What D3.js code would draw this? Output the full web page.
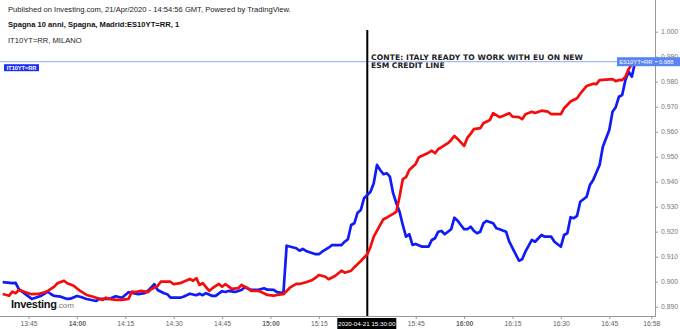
<!DOCTYPE html>
<html><head><meta charset="utf-8">
<script src="https://cdn.jsdelivr.net/npm/d3@7"></script>
<style>body{margin:0;background:#fff}svg{display:block;font-family:"Liberation Sans",Arial,sans-serif}</style>
</head><body><svg id="c" width="680" height="329"></svg>
<script>
// ---- data ----
const esTimes = ["13:37","13:40","13:41","13:42","13:46","13:49","13:51","13:52","13:53","13:55","13:57","13:58","14:00","14:01","14:03","14:06","14:07","14:10","14:12","14:14","14:16","14:19","14:21","14:22","14:24","14:25","14:27","14:28","14:29","14:32","14:33","14:35","14:37","14:38","14:39","14:40","14:42","14:43","14:45","14:46","14:47","14:49","14:51","14:52","14:54","14:56","14:58","14:59","15:01","15:02","15:04","15:05","15:08","15:09","15:10","15:11","15:14","15:15","15:16","15:18","15:19","15:22","15:23","15:24","15:25","15:26","15:27","15:28","15:29","15:30","15:31","15:32","15:33","15:34","15:35","15:36","15:37","15:38","15:39","15:40","15:41","15:42","15:43","15:44","15:45","15:47","15:49","15:50","15:51","15:52","15:53","15:54","15:56","15:57","15:58","16:00","16:01","16:02","16:03","16:04","16:05","16:06","16:07","16:09","16:10","16:11","16:13","16:14","16:17","16:18","16:19","16:21","16:22","16:24","16:25","16:27","16:28","16:30","16:31","16:32","16:33","16:34","16:35","16:36","16:38","16:39","16:40","16:42","16:43","16:45","16:46","16:47","16:48","16:49","16:50","16:51","16:52","16:53"];
const esValues = [0.8998,0.8994,0.8995,0.8970,0.8931,0.8944,0.8960,0.8950,0.8943,0.8940,0.8931,0.8932,0.8943,0.8940,0.8931,0.8923,0.8931,0.8931,0.8942,0.8936,0.8958,0.8950,0.8954,0.8963,0.8990,0.8967,0.8954,0.8950,0.8936,0.8936,0.8940,0.8952,0.8946,0.8952,0.8946,0.8954,0.8943,0.8943,0.8962,0.8959,0.8963,0.8959,0.8967,0.8978,0.8967,0.8967,0.8974,0.8968,0.8967,0.8958,0.8954,0.9144,0.9134,0.9124,0.9131,0.9123,0.9110,0.9110,0.9120,0.9136,0.9146,0.9146,0.9160,0.9170,0.9227,0.9234,0.9276,0.9287,0.9334,0.9347,0.9360,0.9394,0.9467,0.9447,0.9430,0.9434,0.9420,0.9354,0.9314,0.9280,0.9227,0.9180,0.9190,0.9147,0.9151,0.9140,0.9140,0.9167,0.9174,0.9200,0.9203,0.9190,0.9210,0.9256,0.9244,0.9210,0.9210,0.9220,0.9204,0.9194,0.9200,0.9234,0.9243,0.9234,0.9214,0.9210,0.9200,0.9160,0.9084,0.9090,0.9120,0.9167,0.9160,0.9187,0.9180,0.9180,0.9160,0.9140,0.9187,0.9194,0.9258,0.9254,0.9263,0.9320,0.9340,0.9387,0.9407,0.9467,0.9540,0.9607,0.9680,0.9698,0.9740,0.9747,0.9807,0.9840,0.9820,0.9880];
const itTimes = ["13:37","13:39","13:40","13:41","13:42","13:43","13:45","13:46","13:48","13:50","13:51","13:53","13:54","13:56","13:57","13:59","14:01","14:03","14:05","14:06","14:08","14:09","14:10","14:12","14:14","14:16","14:17","14:18","14:20","14:22","14:23","14:25","14:26","14:29","14:30","14:32","14:35","14:36","14:37","14:38","14:39","14:41","14:42","14:44","14:45","14:46","14:48","14:50","14:51","14:53","14:54","14:56","14:57","14:59","15:01","15:02","15:04","15:06","15:08","15:09","15:11","15:13","15:14","15:15","15:17","15:18","15:20","15:22","15:23","15:25","15:26","15:28","15:30","15:31","15:32","15:34","15:35","15:36","15:38","15:39","15:40","15:41","15:42","15:43","15:45","15:46","15:47","15:49","15:50","15:51","15:52","15:53","15:55","15:56","15:57","15:58","16:00","16:01","16:02","16:03","16:05","16:06","16:08","16:09","16:11","16:12","16:14","16:15","16:17","16:18","16:19","16:21","16:22","16:24","16:26","16:27","16:30","16:31","16:33","16:35","16:36","16:38","16:40","16:41","16:42","16:44","16:46","16:47","16:48","16:49","16:50","16:51","16:52"];
const itValues = [0.8951,0.8944,0.8960,0.8954,0.8967,0.8963,0.8954,0.8950,0.8951,0.8958,0.8963,0.8980,0.8994,0.9004,0.8994,0.8984,0.8963,0.8947,0.8940,0.8936,0.8927,0.8936,0.8931,0.8927,0.8927,0.8931,0.8960,0.8958,0.8963,0.8958,0.8970,0.8983,0.9000,0.9000,0.8990,0.8994,0.9011,0.9004,0.9014,0.8987,0.8994,0.8963,0.8974,0.8991,0.8980,0.8990,0.8971,0.8974,0.8987,0.8974,0.8963,0.8963,0.8960,0.8947,0.8944,0.8947,0.8950,0.8976,0.8991,0.8991,0.8998,0.9007,0.9016,0.9027,0.9020,0.9010,0.9023,0.9044,0.9036,0.9044,0.9058,0.9083,0.9110,0.9140,0.9180,0.9227,0.9250,0.9256,0.9271,0.9280,0.9340,0.9410,0.9418,0.9447,0.9471,0.9498,0.9504,0.9516,0.9524,0.9514,0.9531,0.9538,0.9554,0.9567,0.9583,0.9571,0.9543,0.9575,0.9591,0.9610,0.9614,0.9634,0.9647,0.9674,0.9658,0.9663,0.9674,0.9660,0.9658,0.9650,0.9670,0.9680,0.9675,0.9684,0.9680,0.9670,0.9670,0.9694,0.9721,0.9734,0.9752,0.9783,0.9792,0.9790,0.9806,0.9808,0.9810,0.9802,0.9807,0.9806,0.9820,0.9851,0.9870];
const xTickTimes = ["13:45","14:00","14:15","14:30","14:45","15:00","15:15","15:45","16:00","16:15","16:30","16:45","16:58"];
const xTickLabels = ["13:45","14:00","14:15","14:30","14:45","15:00","15:15","15:45","16:00","16:15","16:30","16:45","16:58"];
const yTicks = [0.890,0.900,0.910,0.920,0.930,0.940,0.950,0.960,0.970,0.980,0.990,1.000];
const lastValue = 0.988;
const eventTime = "15:30";
const eventLabel = "2020-04-21 15:30:00";
const eventText = ["CONTE: ITALY READY TO WORK WITH EU ON NEW", "ESM CREDIT LINE"];
const headerLines = ["Published on Investing.com, 21/Apr/2020 - 14:54:56 GMT, Powered by TradingView.", "Spagna 10 anni, Spagna, Madrid:ES10YT=RR, 1", "IT10YT=RR, MILANO"];

// ---- setup ----
const parseT = s => { const [h,m] = s.split(":").map(Number); return new Date(2020,3,21,h,m); };
const svg = d3.select("#c");
const W = 655, B = 316;
const x = d3.scaleTime().domain([new Date(2020,3,21,13,36,10), new Date(2020,3,21,16,59,10)]).range([0, W]);
const y = d3.scaleLinear().domain([0.89, 1.0]).range([306.7, 31.7]);

// header
svg.append("text").attr("x",8).attr("y",11.5).attr("font-size",7.6).attr("fill","#222").text(headerLines[0]);
svg.append("text").attr("x",8).attr("y",27).attr("font-size",7.6).attr("font-weight","bold").attr("fill","#111").text(headerLines[1]);
svg.append("text").attr("x",8).attr("y",42.5).attr("font-size",7.6).attr("fill","#222").text(headerLines[2]);

// last-value horizontal line
svg.append("line").attr("x1",0).attr("x2",W).attr("y1",y(lastValue)).attr("y2",y(lastValue))
  .attr("stroke","#8fa8f7").attr("stroke-width",1);
svg.append("rect").attr("x",4).attr("y",y(lastValue)+2.5).attr("width",35).attr("height",7).attr("fill","#1f2ff0");
svg.append("text").attr("x",21.5).attr("y",y(lastValue)+8.3).attr("text-anchor","middle").attr("font-size",5.6).attr("fill","#fff").attr("font-weight","bold").text("IT10YT=RR");

// event vertical line
const ex = x(parseT(eventTime));
svg.append("line").attr("x1",ex).attr("x2",ex).attr("y1",30).attr("y2",B).attr("stroke","#000").attr("stroke-width",2);
svg.append("text").attr("x",371).attr("y",60).attr("font-family","DejaVu Sans").attr("font-weight","bold").attr("font-size",7.6).attr("fill","#222").attr("textLength",212).text(eventText[0]);
svg.append("text").attr("x",371).attr("y",67.8).attr("font-family","DejaVu Sans").attr("font-weight","bold").attr("font-size",7.6).attr("fill","#222").text(eventText[1]);

// series
const line = d3.line().x(d => x(d.t)).y(d => y(d.v)).curve(d3.curveLinear);
const es = esTimes.map((t,i) => ({t: parseT(t), v: esValues[i]}));
const it = itTimes.map((t,i) => ({t: parseT(t), v: itValues[i]}));
svg.append("path").datum(es).attr("d", line).attr("fill","none").attr("stroke","#0f1cf5").attr("stroke-width",2.7).attr("stroke-linejoin","round");
svg.append("path").datum(it).attr("d", line).attr("fill","none").attr("stroke","#f50d0d").attr("stroke-width",2.7).attr("stroke-linejoin","round");

// axes
const yAxis = d3.axisRight(y).tickValues(yTicks).tickSize(3).tickPadding(3).tickFormat(d3.format(".3f"));
const gy = svg.append("g").attr("transform",`translate(${W},0)`).call(yAxis);
gy.select(".domain").remove();
gy.selectAll(".tick line").attr("stroke","#999");
gy.selectAll(".tick text").attr("font-size",6.8).attr("fill","#777").attr("font-family","Liberation Sans, Arial, sans-serif");
svg.append("line").attr("x1",W+0.5).attr("x2",W+0.5).attr("y1",0).attr("y2",B).attr("stroke","#999").attr("stroke-width",1);

const xAxis = d3.axisBottom(x).tickValues(xTickTimes.map(parseT)).tickSize(3).tickPadding(2)
  .tickFormat((d,i) => xTickLabels[i]);
const gx = svg.append("g").attr("transform",`translate(0,${B})`).call(xAxis);
gx.select(".domain").remove();
gx.selectAll(".tick line").attr("stroke","#999");
gx.selectAll(".tick text").attr("font-size",6.8).attr("fill","#666").attr("font-family","Liberation Sans, Arial, sans-serif")
  .attr("font-weight", (d,i) => xTickLabels[i].endsWith(":00") ? "bold" : "normal");
svg.append("line").attr("x1",0).attr("x2",W+1).attr("y1",B+0.5).attr("y2",B+0.5).attr("stroke","#999").attr("stroke-width",1);

// event time label
svg.append("rect").attr("x",ex-30).attr("y",B+2).attr("width",59).attr("height",11).attr("fill","#000");
svg.append("text").attr("x",ex-0.5).attr("y",B+10).attr("text-anchor","middle").attr("font-size",6.2).attr("fill","#fff").text(eventLabel);

// right last-value label
const ly = y(lastValue);
svg.append("rect").attr("x",617).attr("y",ly-4.5).attr("width",63).attr("height",9).attr("fill","#5a84f2");
svg.append("text").attr("x",652.5).attr("y",ly+2.3).attr("text-anchor","end").attr("font-size",5.8).attr("fill","#fff").text("ES10YT=RR");
svg.append("text").attr("x",659).attr("y",ly+2.3).attr("font-size",5.8).attr("fill","#fff").text(d3.format(".3f")(lastValue));
svg.append("line").attr("x1",655).attr("x2",657.5).attr("y1",ly).attr("y2",ly).attr("stroke","#fff");

// logo
const logo = svg.append("text").attr("x",11).attr("y",307.5);
logo.append("tspan").attr("font-size",11).attr("font-weight","bold").attr("fill","#111").attr("letter-spacing",-0.3).text("Investing");
logo.append("tspan").attr("font-size",8).attr("fill","#777").text(".com");
</script></body></html>
